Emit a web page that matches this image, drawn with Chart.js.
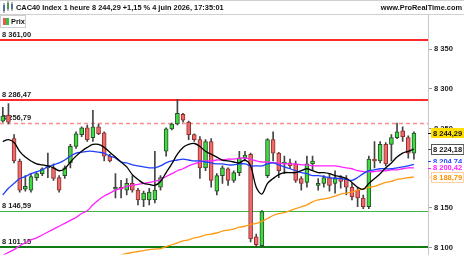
<!DOCTYPE html>
<html><head><meta charset="utf-8">
<script src="https://cdn.jsdelivr.net/npm/chart.js@4.4.1/dist/chart.umd.min.js"></script>
<style>html,body{margin:0;padding:0;background:#fff;overflow:hidden}canvas{display:block}</style>
</head><body>
<canvas id="c" width="464" height="261"></canvas>
<script>
const titleText = "CAC40 Index 1 heure 8 244,29 +1,15 % 4 juin 2026, 17:35:01";
const siteText = "www.ProRealTime.com";
const legendText = "Prix";

const open = [8259.3,8266.7,8237.3,8209.1,8173.5,8172.3,8188.2,8193.1,8200.5,8200.5,
8188.2,8190.7,8206.6,8227.4,8242.2,8250.7,8238.5,8252.0,8244.6,8215.2,
8173.5,8176.0,8172.3,8180.9,8172.3,8160.0,8160.0,8160.0,8176.0,8221.3,
8249.5,8255.6,8267.9,8258.1,8242.2,8236.0,8200.5,8233.6,8171.1,8190.7,
8199.3,8184.6,8194.4,8212.7,8217.6,8113.5,8102.4,8190.7,8236.0,8218.9,
8205.4,8206.6,8205.4,8187.0,8182.1,8205.4,8178.4,8180.9,8188.2,8180.9,
8188.2,8187.0,8176.0,8172.3,8162.5,8151.4,8211.5,8209.1,8229.9,8229.9,
8238.5,8247.0,8238.5,8218.9];
const close = [8265.5,8258.1,8209.1,8172.3,8177.2,8189.5,8193.1,8199.3,8202.9,8187.0,
8172.3,8200.5,8227.4,8243.4,8250.7,8236.0,8252.0,8243.4,8215.2,8209.1,
8176.0,8173.5,8180.9,8172.3,8160.0,8168.6,8169.8,8172.3,8188.2,8249.5,
8255.6,8269.1,8260.6,8242.2,8236.0,8200.5,8233.6,8184.6,8190.7,8200.5,
8184.6,8194.4,8212.7,8216.4,8111.0,8103.6,8145.3,8236.0,8218.9,8196.8,
8207.8,8202.9,8184.6,8180.9,8205.4,8209.1,8180.9,8188.2,8178.4,8188.2,
8183.3,8176.0,8163.7,8162.5,8151.4,8211.5,8209.1,8229.9,8205.4,8238.5,
8245.8,8239.7,8218.9,8244.29];
const high = [8276.5,8281.4,8242.2,8211.5,8190.7,8193.1,8194.4,8200.5,8218.9,8205.4,
8190.7,8202.9,8229.9,8245.8,8252.0,8254.4,8272.8,8255.6,8245.8,8217.6,
8193.1,8184.6,8187.0,8190.7,8174.7,8171.1,8174.7,8221.3,8190.7,8250.7,
8256.9,8286.3,8269.1,8259.3,8243.4,8239.7,8236.0,8237.3,8193.1,8202.9,
8200.5,8196.8,8221.3,8221.3,8218.9,8117.1,8146.5,8237.3,8245.8,8220.1,
8215.2,8211.5,8209.1,8189.5,8215.2,8215.2,8187.0,8190.7,8193.1,8196.8,
8190.7,8190.7,8180.9,8176.0,8166.2,8215.2,8233.6,8233.6,8232.3,8242.2,
8256.9,8252.0,8240.9,8245.8];
const low = [8258.1,8255.6,8206.6,8169.8,8171.1,8169.8,8184.6,8190.7,8188.2,8184.6,
8169.8,8187.0,8200.5,8225.0,8239.7,8233.6,8233.6,8242.2,8209.1,8207.8,
8162.5,8162.5,8166.2,8169.8,8153.9,8151.4,8153.9,8156.3,8172.3,8215.2,
8248.3,8254.4,8258.1,8236.0,8233.6,8187.0,8196.8,8176.0,8166.2,8180.9,
8178.4,8182.1,8190.7,8209.1,8107.3,8101.2,8101.2,8188.2,8209.1,8188.2,
8193.1,8199.3,8182.1,8172.3,8176.0,8196.8,8172.3,8176.0,8171.1,8168.6,
8174.7,8166.2,8160.0,8151.4,8149.0,8149.0,8200.5,8206.6,8202.9,8209.1,
8237.3,8233.6,8212.7,8211.5];

const maBlack = [8233.6,8236.0,8232.3,8221.3,8214.0,8209.1,8205.4,8204.2,8202.9,8200.5,
8196.8,8199.3,8207.8,8215.2,8221.3,8226.2,8229.9,8229.9,8226.2,8220.1,
8214.0,8207.8,8201.7,8191.9,8185.8,8180.9,8179.6,8178.4,8183.3,8194.4,
8205.4,8217.6,8226.2,8229.9,8231.1,8227.4,8221.3,8217.6,8214.0,8210.3,
8209.1,8207.8,8206.6,8210.3,8202.9,8176.0,8167.4,8180.9,8187.0,8191.9,
8194.4,8194.4,8194.4,8196.8,8199.3,8196.8,8194.4,8194.4,8193.1,8190.7,
8189.5,8187.0,8182.1,8176.0,8173.5,8180.9,8187.0,8193.1,8200.5,8206.6,
8214.0,8218.9,8221.3,8224.18];
const maBlue = [8166.2,8174.7,8180.9,8187.0,8189.5,8193.1,8195.6,8198.0,8201.7,8204.2,
8206.6,8210.3,8215.2,8218.9,8220.1,8221.3,8221.3,8220.1,8218.9,8215.2,
8212.7,8207.8,8206.6,8204.2,8202.9,8201.7,8200.5,8200.5,8202.9,8206.6,
8209.1,8210.3,8211.5,8210.3,8209.1,8209.1,8207.8,8206.6,8205.4,8205.4,
8204.2,8204.2,8205.4,8205.4,8202.9,8202.9,8202.9,8205.4,8206.6,8204.2,
8201.7,8199.3,8196.8,8194.4,8193.1,8190.7,8190.7,8189.5,8188.2,8187.0,
8187.0,8185.8,8184.6,8188.2,8193.1,8196.8,8198.0,8199.3,8199.3,8199.3,
8200.5,8201.7,8202.9,8204.74];
const maMagenta = [8090.2,8093.9,8097.5,8102.4,8106.1,8109.8,8112.2,8115.9,8119.6,8123.3,
8126.9,8130.6,8134.3,8138.0,8142.9,8146.5,8153.9,8160.0,8164.9,8168.6,
8172.3,8174.7,8177.2,8178.4,8179.6,8180.9,8182.1,8183.3,8185.8,8189.5,
8193.1,8196.8,8199.3,8202.9,8205.4,8207.8,8209.1,8209.1,8210.3,8210.3,
8211.5,8211.5,8212.7,8212.7,8211.5,8209.1,8207.8,8207.8,8206.6,8206.6,
8205.4,8205.4,8205.4,8204.2,8204.2,8202.9,8202.9,8202.9,8202.9,8202.9,
8201.7,8200.5,8199.3,8196.8,8195.6,8195.6,8195.6,8196.8,8196.8,8198.0,
8198.0,8199.3,8200.5,8200.42];
const maOrange = [null,null,null,null,null,null,null,null,null,null,
null,null,null,null,null,null,null,null,null,null,null,
8090.2,8092.6,8093.9,8095.1,8096.3,8097.5,8098.2,8098.8,8101.2,8103.6,
8106.1,8108.6,8109.8,8112.2,8113.5,8115.9,8117.1,8118.4,8120.8,8122.0,
8123.3,8125.7,8126.9,8129.4,8130.6,8133.1,8136.7,8140.4,8142.9,8144.1,
8146.5,8149.0,8151.4,8153.9,8157.6,8160.0,8161.3,8162.5,8164.9,8167.4,
8168.6,8169.8,8172.3,8173.5,8176.0,8177.2,8179.6,8182.1,8183.3,8185.8,
8187.0,8188.2,8188.79];

const levelValues = [8361.00, 8286.47, 8256.79, 8146.59, 8101.15];
const tickValues = [8100, 8150, 8200, 8250, 8300, 8350];
const lastPrice = 8244.29;
const maLastBlack = 8224.18, maLastBlue = 8204.74, maLastMagenta = 8200.42, maLastOrange = 8188.79;
const slotCount = 76;
const categories = Array.from({length: slotCount}, (_, i) => String(i + 1));

const FONT = '"Liberation Sans", Arial, sans-serif';
function fmt(v, d) {
  const s = v.toFixed(d);
  const parts = s.split('.');
  const ip = parts[0].replace(/\B(?=(\d{3})+(?!\d))/g, ' ');
  return parts[1] ? ip + ',' + parts[1] : ip;
}

const levelStyles = [
  {color:'#ff2a2a', width:2, dash:[]},
  {color:'#ff2a2a', width:2, dash:[]},
  {color:'#ff8c8c', width:1.5, dash:[4,3]},
  {color:'#3fb83f', width:1, dash:[]},
  {color:'#127a12', width:2, dash:[]}
];

const up = close.map((c, i) => c >= open[i]);

const decor = {
  id: 'decor',
  beforeDatasetsDraw(chart) {
    const ctx = chart.ctx, a = chart.chartArea, y = chart.scales.y;
    ctx.save();
    levelValues.forEach((v, i) => {
      const st = levelStyles[i];
      const py = Math.round(y.getPixelForValue(v)) + (st.width % 2 ? 0.5 : 0);
      ctx.strokeStyle = st.color; ctx.lineWidth = st.width; ctx.setLineDash(st.dash);
      ctx.beginPath(); ctx.moveTo(a.left, py); ctx.lineTo(a.right, py); ctx.stroke();
    });
    ctx.setLineDash([]);
    ctx.font = 'bold 7.5px ' + FONT; ctx.fillStyle = '#222'; ctx.textBaseline = 'alphabetic'; ctx.textAlign = 'left';
    levelValues.forEach(v => {
      const py = y.getPixelForValue(v);
      ctx.fillText(fmt(v, 2), a.left + 2, py - 3);
    });
    ctx.restore();
  },
  afterDraw(chart) {
    const ctx = chart.ctx, a = chart.chartArea, y = chart.scales.y, W = chart.width;
    ctx.save();
    ctx.fillStyle = '#fff'; ctx.fillRect(0, 0, W, a.top);
    ctx.strokeStyle = '#d0d0d0'; ctx.lineWidth = 1;
    ctx.beginPath(); ctx.moveTo(0, 0.5); ctx.lineTo(W, 0.5); ctx.stroke();
    ctx.beginPath(); ctx.moveTo(0, a.top - 0.5); ctx.lineTo(W, a.top - 0.5); ctx.stroke();
    ctx.fillStyle = '#3a7bd5'; ctx.fillRect(3, 5, 2, 6);
    ctx.fillStyle = '#3cbf3c'; ctx.fillRect(7, 3, 2, 6);
    ctx.fillStyle = '#3a7bd5'; ctx.fillRect(11, 4, 2, 5);
    ctx.fillStyle = '#666'; ctx.fillRect(3.5, 3, 1, 10); ctx.fillRect(7.5, 1, 1, 10); ctx.fillRect(11.5, 2, 1, 9);
    ctx.font = 'bold 7.4px ' + FONT; ctx.fillStyle = '#111'; ctx.textBaseline = 'middle';
    ctx.textAlign = 'left'; ctx.fillText(titleText, 16, 8);
    ctx.textAlign = 'right'; ctx.fillText(siteText, W - 2, 8);
    ctx.fillStyle = '#fff'; ctx.fillRect(0, a.top, 26, 13);
    ctx.strokeStyle = '#cfcfcf'; ctx.strokeRect(0.5, a.top + 0.5, 25, 12);
    ctx.fillStyle = '#e85a5a'; ctx.fillRect(3, a.top + 3, 3, 7);
    ctx.fillStyle = '#3cc03c'; ctx.fillRect(6, a.top + 3, 3, 7);
    ctx.fillStyle = '#111'; ctx.textAlign = 'left'; ctx.fillText(legendText, 11, a.top + 6.5);
    const x0 = a.right + 3;
    function box(v, txt, fg, bg, border, dy) {
      const py = y.getPixelForValue(v) + (dy || 0);
      const w = ctx.measureText(txt).width + 4;
      if (bg) { ctx.fillStyle = bg; ctx.fillRect(x0, py - 5, w, 10); }
      if (border) { ctx.strokeStyle = border; ctx.lineWidth = 1; ctx.strokeRect(x0 + 0.5, Math.round(py - 5) + 0.5, w - 1, 10); }
      ctx.fillStyle = fg; ctx.textAlign = 'left'; ctx.textBaseline = 'middle';
      ctx.fillText(txt, x0 + 2, py + 0.5);
      ctx.fillStyle = border || fg; ctx.fillRect(a.right, Math.round(py), 3, 1);
    }
    ctx.font = 'bold 7.5px ' + FONT;
    box(maLastBlue, fmt(maLastBlue, 2), '#2040ff', '#fff', null, -3);
    box(maLastMagenta, fmt(maLastMagenta, 2), '#ff20ff', '#fff', null, 0);
    box(maLastOrange, fmt(maLastOrange, 2), '#ff9000', '#fff', '#ffd0a0', 0);
    box(maLastBlack, fmt(maLastBlack, 2), '#111', '#fff', '#555', 0);
    box(lastPrice, fmt(lastPrice, 2), '#111', '#ffdf00', null, 0);
    ctx.restore();
  }
};

new Chart(document.getElementById('c'), {
  data: {
    labels: categories,
    datasets: [
      {type:'line', data: maBlack, borderColor:'#000', borderWidth:1.3, pointRadius:0, tension:0.35, order:0},
      {type:'line', data: maBlue, borderColor:'#1f3fff', borderWidth:1.3, pointRadius:0, tension:0.35, order:1},
      {type:'line', data: maMagenta, borderColor:'#ff22ff', borderWidth:1.3, pointRadius:0, tension:0.35, order:2},
      {type:'line', data: maOrange, borderColor:'#ff9a10', borderWidth:1.3, pointRadius:0, tension:0.35, order:3},
      {type:'bar', data: open.map((o, i) => [o, close[i]]),
        backgroundColor: up.map(u => u ? '#3fdc3f' : '#f06a6a'),
        borderColor: up.map(u => u ? '#2b4a2b' : '#8a3030'),
        borderWidth:1, borderSkipped:false, barThickness:4, grouped:false, order:4},
      {type:'bar', data: low.map((l, i) => [l, high[i]]), backgroundColor:'#444',
        barThickness:1, grouped:false, order:5}
    ]
  },
  options: {
    responsive:false, animation:false, events:[],
    layout:{padding:{top:15, left:0, right:0, bottom:0}},
    plugins:{legend:{display:false}, tooltip:{enabled:false}},
    scales:{
      x:{type:'category', offset:true, display:false, grid:{display:false}},
      y:{position:'right', min:8091.4, max:8392.9,
        afterBuildTicks: s => { s.ticks = tickValues.map(v => ({value:v})); },
        afterFit: s => { s.width = 36; },
        ticks:{callback: v => fmt(v, 0), color:'#222', padding:2, font:{family:FONT, size:7.6, weight:'bold'}},
        grid:{drawOnChartArea:false, drawTicks:true, tickLength:4, color:'#999'},
        border:{display:true, color:'#c8c8c8'}
      }
    }
  },
  plugins:[decor]
});
</script>
</body></html>
